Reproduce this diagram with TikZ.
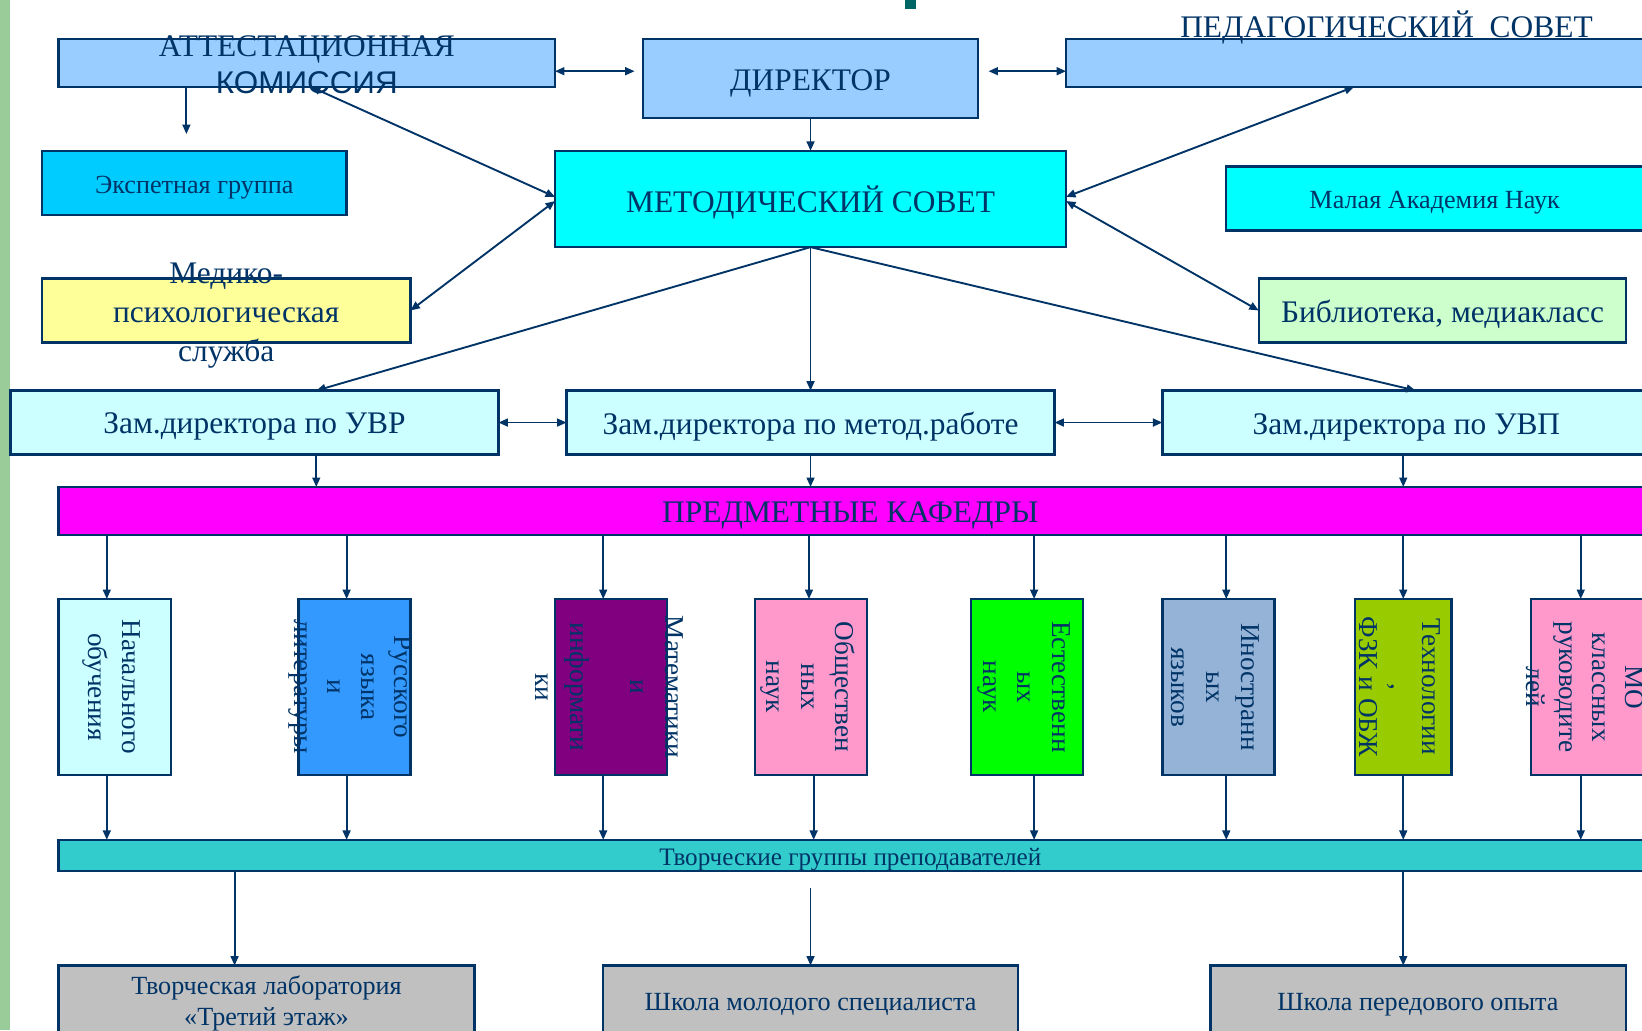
\documentclass[tikz,border=0pt]{standalone}
\usepackage{fontspec}
\setmainfont{Liberation Serif}
\newfontfamily\arialfont{Liberation Sans}
\usetikzlibrary{arrows.meta,calc}
\definecolor{navy}{HTML}{003366}
\definecolor{stripgreen}{HTML}{99CC99}
\definecolor{titleteal}{HTML}{006666}
\definecolor{cLightBlue}{HTML}{99CCFF}
\definecolor{cSky}{HTML}{00CCFF}
\definecolor{cCyan}{HTML}{00FFFF}
\definecolor{cYellow}{HTML}{FFFF99}
\definecolor{cMint}{HTML}{CCFFCC}
\definecolor{cPale}{HTML}{CCFFFF}
\definecolor{cMagenta}{HTML}{FF00FF}
\definecolor{cBlue}{HTML}{3399FF}
\definecolor{cPurple}{HTML}{800080}
\definecolor{cPink}{HTML}{FF99CC}
\definecolor{cGreen}{HTML}{00FF00}
\definecolor{cSteel}{HTML}{95B3D7}
\definecolor{cOlive}{HTML}{99CC00}
\definecolor{cTeal}{HTML}{33CCCC}
\definecolor{cGray}{HTML}{C0C0C0}
\begin{document}
\begin{tikzpicture}[x=1pt,y=-1pt,
  box/.style={draw=navy,line width=2.2pt,anchor=north west,inner sep=0pt,outer sep=0pt},
  txt/.style={text=navy,align=center,inner sep=0pt},
  big/.style={font=\fontsize{30}{35}\selectfont},
  mid/.style={font=\fontsize{25}{30}\selectfont},
  vert/.style={txt,rotate=-90,font=\fontsize{26}{33}\selectfont},
  arr/.style={draw=navy,line width=1.8pt,-{Triangle[length=9pt,width=7.5pt]}},
  dbl/.style={draw=navy,line width=1.8pt,{Triangle[length=9pt,width=7.5pt]}-{Triangle[length=9pt,width=7.5pt]}}]
\useasboundingbox (0,0) rectangle (1568,984);
\clip (0,0) rectangle (1568,984);
\fill[white] (0,0) rectangle (1568,984);
\fill[stripgreen] (0,0) rectangle (10,984);
\fill[titleteal] (864,0) rectangle (875,9);

% boxes
\node[box,fill=cLightBlue,minimum width=474pt,minimum height=46pt] (att) at (56,37) {};
\node[box,fill=cLightBlue,minimum width=320pt,minimum height=76pt] (dir) at (614,37) {};
\node[box,fill=cLightBlue,minimum width=560pt,minimum height=46pt] (ped) at (1018,37) {};
\node[box,fill=cSky,minimum width=291pt,minimum height=61pt] (exp) at (40,144) {};
\node[box,fill=cCyan,minimum width=488pt,minimum height=92pt] (met) at (530,144) {};
\node[box,fill=cCyan,minimum width=405pt,minimum height=61pt] (mal) at (1171,159) {};
\node[box,fill=cYellow,minimum width=352pt,minimum height=61pt] (med) at (40,266) {};
\node[box,fill=cMint,minimum width=351pt,minimum height=61pt] (bib) at (1202,266) {};
\node[box,fill=cPale,minimum width=466pt,minimum height=61pt] (z1) at (10,373) {};
\node[box,fill=cPale,minimum width=466pt,minimum height=61pt] (z2) at (541,373) {};
\node[box,fill=cPale,minimum width=465pt,minimum height=61pt] (z3) at (1110,373) {};
\node[box,fill=cMagenta,minimum width=1520pt,minimum height=46pt] (kaf) at (56,465) {};
\node[box,fill=cPale,minimum width=107pt,minimum height=168pt] (b1) at (56,572) {};
\node[box,fill=cBlue,minimum width=107pt,minimum height=168pt] (b2) at (285,572) {};
\node[box,fill=cPurple,minimum width=107pt,minimum height=168pt] (b3) at (530,572) {};
\node[box,fill=cPink,minimum width=107pt,minimum height=168pt] (b4) at (721,572) {};
\node[box,fill=cGreen,minimum width=107pt,minimum height=168pt] (b5) at (927,572) {};
\node[box,fill=cSteel,minimum width=107pt,minimum height=168pt] (b6) at (1110,572) {};
\node[box,fill=cOlive,minimum width=92pt,minimum height=168pt] (b7) at (1294,572) {};
\node[box,fill=cPink,minimum width=110pt,minimum height=168pt] (b8) at (1462,572) {};
\node[box,fill=cTeal,minimum width=1520pt,minimum height=30pt] (tv) at (56,802) {};
\node[box,fill=cGray,minimum width=397pt,minimum height=68pt] (l1) at (56,922) {};
\node[box,fill=cGray,minimum width=396pt,minimum height=68pt] (l2) at (576,922) {};
\node[box,fill=cGray,minimum width=397pt,minimum height=68pt] (l3) at (1156,922) {};

% connectors, top part
\coordinate (expT) at ([xshift=-7.5pt,yshift=16pt]exp.north);
\draw[arr] (expT |- att.south) -- (expT);
\draw[dbl] ([yshift=-8pt]att.east) -- ([xshift=-8pt,yshift=7pt]dir.west);
\draw[dbl] ([xshift=10pt,yshift=7pt]dir.east) -- ([yshift=-8pt]ped.west);
\draw[arr] (dir.south) -- (met.north);
\draw[dbl] ([xshift=4pt]att.south) -- ([yshift=2pt]met.west);
\draw[dbl] ([yshift=-2pt]met.west) -- (med.east);
\draw[dbl] ([xshift=275pt]ped.south west) -- ([yshift=2pt]met.east);
\draw[dbl] ([yshift=-2pt]met.east) -- (bib.west);
\draw[arr] (met.south) -- ([xshift=59pt]z1.north);
\draw[arr] (met.south) -- (z2.north);
\draw[arr] (met.south) -- ([xshift=9.5pt]z3.north);
\draw[dbl] (z1.east) -- (z2.west);
\draw[dbl] (z2.east) -- (z3.west);
\coordinate (zA) at ([xshift=59pt]z1.south);
\coordinate (zC) at ([xshift=-2.5pt]z3.south);
\draw[arr] (zA) -- (zA |- kaf.north);
\draw[arr] (z2.south) -- (z2.south |- kaf.north);
\draw[arr] (zC) -- (zC |- kaf.north);

% kafedry to small boxes and to bar
\foreach \b/\dt/\db in {b1/-7.5/-7.5, b2/-7.5/-7.5, b3/-7.5/-7.5, b4/-2/2.5, b5/7/7, b6/7.5/7.5, b7/0/0, b8/-7.5/-7.5}{
  \coordinate (\b T) at ([xshift=\dt pt]\b.north);
  \coordinate (\b B) at ([xshift=\db pt]\b.south);
  \draw[arr] (\b T |- kaf.south) -- (\b T);
  \draw[arr] (\b B) -- (\b B |- tv.north);
}

% bar to bottom boxes
\coordinate (lA) at ([xshift=-30.5pt]l1.north);
\coordinate (lB) at (l2.north |- tv.south);
\coordinate (lC) at ([xshift=-14.5pt]l3.north);
\draw[arr] (lA |- tv.south) -- (lA);
\draw[arr] ([yshift=-16pt]lB) -- (l2.north);
\draw[arr] (lC |- tv.south) -- (lC);

% texts
\node[txt,big] (attT) at ([yshift=-2pt]att.center) {АТТЕСТАЦИОННАЯ\\{\arialfont КОМИССИЯ}};
\node[txt,big] (dirT) at ([yshift=-5pt]dir.center) {ДИРЕКТОР};
\node[txt,big] (pedT) at (1324,26) {ПЕДАГОГИЧЕСКИЙ\ \ СОВЕТ};
\node[txt,mid] (expT2) at ([yshift=-5pt]exp.center) {Экспетная группа};
\node[txt,big] (metT) at ([yshift=-3pt]met.center) {МЕТОДИЧЕСКИЙ СОВЕТ};
\node[txt,mid] (malT) at (1370,194) {Малая Академия Наук};
\node[txt,font=\fontsize{30}{37}\selectfont] (medT) at ([yshift=-5pt]med.center) {Медико-\\психологическая\\служба};
\node[txt,big] (bibT) at ([yshift=-4pt]bib.center) {Библиотека, медиакласс};
\node[txt,big] (z1T) at ([yshift=-4pt]z1.center) {Зам.директора по УВР};
\node[txt,big] (z2T) at ([yshift=-4pt]z2.center) {Зам.директора по метод.работе};
\node[txt,big] (z3T) at (1343,408) {Зам.директора по УВП};
\node[txt,big] (kafT) at (812,492) {ПРЕДМЕТНЫЕ КАФЕДРЫ};
\node[txt,font=\fontsize{24}{28}\selectfont] (tvT) at (812,821) {Творческие группы преподавателей};
\node[txt,mid] (l1T) at (254.5,958) {Творческая лаборатория\\«Третий этаж»};
\node[txt,mid] (l2T) at (774,959) {Школа молодого специалиста};
\node[txt,mid] (l3T) at (1354,959) {Школа передового опыта};

\node[vert] (b1t) at ($(b1.center)+(-3,0)$) {Начального\\обучения};
\node[vert,font=\fontsize{26}{32}\selectfont] (b2t) at ($(b2.center)+(-4,0)$) {Русского\\языка\\и\\литературы};
\node[vert] (b3t) at ($(b3.center)+(-1.5,0)$) {Математики\\и\\[25pt]информати\\ки};
\node[vert] (b4t) at ($(b4.center)+(-3,0)$) {Обществен\\ных\\наук};
\node[vert] (b5t) at ($(b5.center)+(-3,0)$) {Естественн\\ых\\наук};
\node[vert] (b6t) at ($(b6.center)+(-3,0)$) {Иностранн\\ых\\языков};
\node[vert,font=\fontsize{26}{30}\selectfont] (b7t) at ($(b7.center)+(-3,0)$) {Технологии\\,\\ФЗК и ОБЖ};
\node[vert,font=\fontsize{26}{31.5}\selectfont] (b8t) at (1513,656) {МО\\классных\\руководите\\лей};
\end{tikzpicture}
\end{document}
